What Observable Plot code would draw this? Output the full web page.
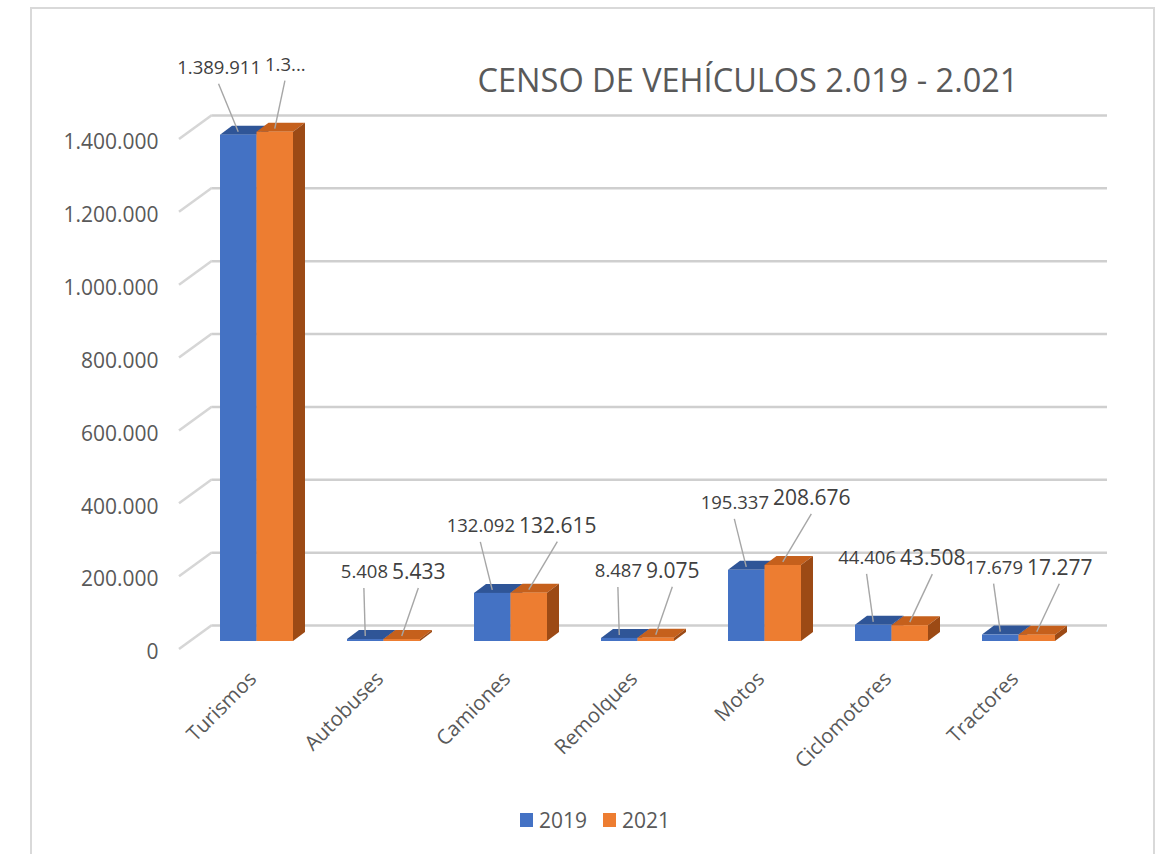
<!DOCTYPE html>
<html>
<head>
<meta charset="utf-8">
<script src="https://cdn.jsdelivr.net/npm/d3@7"></script>
<script src="https://cdn.jsdelivr.net/npm/@observablehq/plot@0.6"></script>
<style>
  body { margin: 0; background: #fff; font-family: "Open Sans", sans-serif; }
  #wrap { position: relative; width: 1161px; height: 854px; overflow: hidden; background: #fff; }
  #frame { position: absolute; left: 30px; top: 7px; width: 1125px; height: 900px; border: 2px solid #d9d9d9; box-sizing: border-box; }
  #chart { position: absolute; left: 0; top: 0; }
  #title { position: absolute; left: 448px; top: 57px; width: 600px; text-align: center; font-size: 32.5px; color: #595959; white-space: nowrap; }
  #legend { position: absolute; left: 520px; top: 806px; display: flex; align-items: center; font-size: 21px; color: #595959; }
  .item { display: flex; align-items: center; margin-right: 16px; }
  .sw { width: 13px; height: 14px; margin-right: 6px; }
</style>
</head>
<body>
<div id="wrap">
  <div id="frame"></div>
  <div id="chart"></div>
  <div id="title">CENSO DE VEHÍCULOS 2.019 - 2.021</div>
  <div id="legend"></div>
</div>
<script>
// ---- data ----
const categories = ["Turismos", "Autobuses", "Camiones", "Remolques", "Motos", "Ciclomotores", "Tractores"];
const series = ["2019", "2021"];
const values2019 = [1389911, 5408, 132092, 8487, 195337, 44406, 17679];
const values2021 = [1398000, 5433, 132615, 9075, 208676, 43508, 17277];
const yTicks = [0, 200000, 400000, 600000, 800000, 1000000, 1200000, 1400000];
// Excel truncated this data label
const truncatedLabels = {"Turismos|2021": "1.3..."};

// ---- styles ----
const colors = {
  "2019": {front: "#4472C4", top: "#2F5597", side: "#29498a"},
  "2021": {front: "#ED7D31", top: "#C5601C", side: "#9C4A15"}
};
const DEPTH_X = 12, DEPTH_Y = -9;
const LABEL_DY = -67;
const LABEL_DX = {"2019": 4, "2021": 8};

const locale = d3.formatLocale({decimal: ",", thousands: ".", grouping: [3], currency: ["", "€"]});
const fmt = locale.format(",d");

const rows = [
  ...categories.map((c, i) => ({cat: c, serie: "2019", value: values2019[i]})),
  ...categories.map((c, i) => ({cat: c, serie: "2021", value: values2021[i]}))
];
const labelText = d => truncatedLabels[d.cat + "|" + d.serie] ?? fmt(d.value);
const labelSize = d => d.value >= 1000000 ? 18.5 : (d.serie === "2019" ? 18.5 : 21);
const textWidth = (s, size) => {
  let w = 0;
  for (const ch of s) w += (ch === "." ? 0.266 : 0.572);
  return w * size;
};

function bars3d(index, scales) {
  const g = d3.create("svg:g");
  const bw = scales.x.bandwidth();
  const half = bw / 2;
  const yb = scales.y(0);
  for (const i of index) {
    const d = rows[i];
    const c = colors[d.serie];
    const x0 = scales.x(d.cat) + (d.serie === "2019" ? 0 : half);
    const yt = scales.y(d.value);
    g.append("path")
      .attr("d", `M${x0},${yt}L${x0 + half},${yt}L${x0 + half + DEPTH_X},${yt + DEPTH_Y}L${x0 + DEPTH_X},${yt + DEPTH_Y}Z`)
      .attr("fill", c.top);
    g.append("path")
      .attr("d", `M${x0 + half},${yt}L${x0 + half + DEPTH_X},${yt + DEPTH_Y}L${x0 + half + DEPTH_X},${yb + DEPTH_Y}L${x0 + half},${yb}Z`)
      .attr("fill", c.side);
    g.append("rect")
      .attr("x", x0).attr("y", yt).attr("width", half).attr("height", Math.max(0, yb - yt))
      .attr("fill", c.front);
  }
  return g.node();
}

function leaders(index, scales) {
  const g = d3.create("svg:g").attr("stroke", "#a6a6a6").attr("stroke-width", 1.4);
  const bw = scales.x.bandwidth();
  const half = bw / 2;
  for (const i of index) {
    const d = rows[i];
    const bc = scales.x(d.cat) + half;
    const yt = scales.y(d.value);
    const w = textWidth(labelText(d), labelSize(d));
    const lx = d.serie === "2019" ? bc + LABEL_DX["2019"] - w / 2 : bc + LABEL_DX["2021"] + w / 2;
    const ly = yt + LABEL_DY + 16;
    const ex = scales.x(d.cat) + (d.serie === "2019" ? 0 : half) + half / 2;
    const ey = yt - 3;
    g.append("line").attr("x1", lx).attr("y1", ly).attr("x2", ex).attr("y2", ey);
  }
  return g.node();
}

function diagTicks(index, scales, values, dims) {
  const g = d3.create("svg:g").attr("stroke", "#d6d6d6").attr("stroke-width", 2.5);
  for (const i of index) {
    const y = scales.y(yTicks[i]);
    g.append("line")
      .attr("x1", dims.marginLeft - 15).attr("y1", y + 8)
      .attr("x2", dims.marginLeft + 18).attr("y2", y - 16);
  }
  return g.node();
}

const plot = Plot.plot({
  width: 1161,
  height: 760,
  marginLeft: 194,
  marginRight: 80,
  marginTop: 131,
  marginBottom: 119,
  style: {fontFamily: '"Open Sans", sans-serif', color: "#595959", background: "transparent", overflow: "visible"},
  x: {domain: categories, paddingInner: 0.428, paddingOuter: 0.188},
  y: {domain: [0, 1400000]},
  marks: [
    Plot.ruleY(yTicks, {dx: 18, dy: -16, insetRight: -8, stroke: "#cfcfcf", strokeWidth: 2.5}),
    Plot.ruleY(yTicks, {render: diagTicks}),
    Plot.barY(rows, {x: "cat", y: "value", render: bars3d}),
    Plot.barY(rows, {x: "cat", y: "value", render: leaders}),
    Plot.text(rows.filter(d => d.serie === "2019"), {
      x: "cat", y: "value", text: labelText, textAnchor: "end",
      dx: LABEL_DX["2019"], dy: LABEL_DY, fontSize: labelSize, fill: "#404040"
    }),
    Plot.text(rows.filter(d => d.serie === "2021"), {
      x: "cat", y: "value", text: labelText, textAnchor: "start",
      dx: LABEL_DX["2021"], dy: LABEL_DY, fontSize: labelSize, fill: "#404040"
    }),
    Plot.axisY(yTicks, {tickSize: 0, tickPadding: 36, dy: 11, fontSize: 21, tickFormat: fmt, label: null}),
    Plot.axisX({tickRotate: -45, tickSize: 0, tickPadding: 34, dx: -4, fontSize: 20.5, label: null})
  ]
});
document.getElementById("chart").appendChild(plot);

const legend = document.getElementById("legend");
for (const s of series) {
  const item = document.createElement("div");
  item.className = "item";
  const sw = document.createElement("div");
  sw.className = "sw";
  sw.style.background = colors[s].front;
  const t = document.createElement("span");
  t.textContent = s;
  item.appendChild(sw);
  item.appendChild(t);
  legend.appendChild(item);
}
</script>
</body>
</html>
